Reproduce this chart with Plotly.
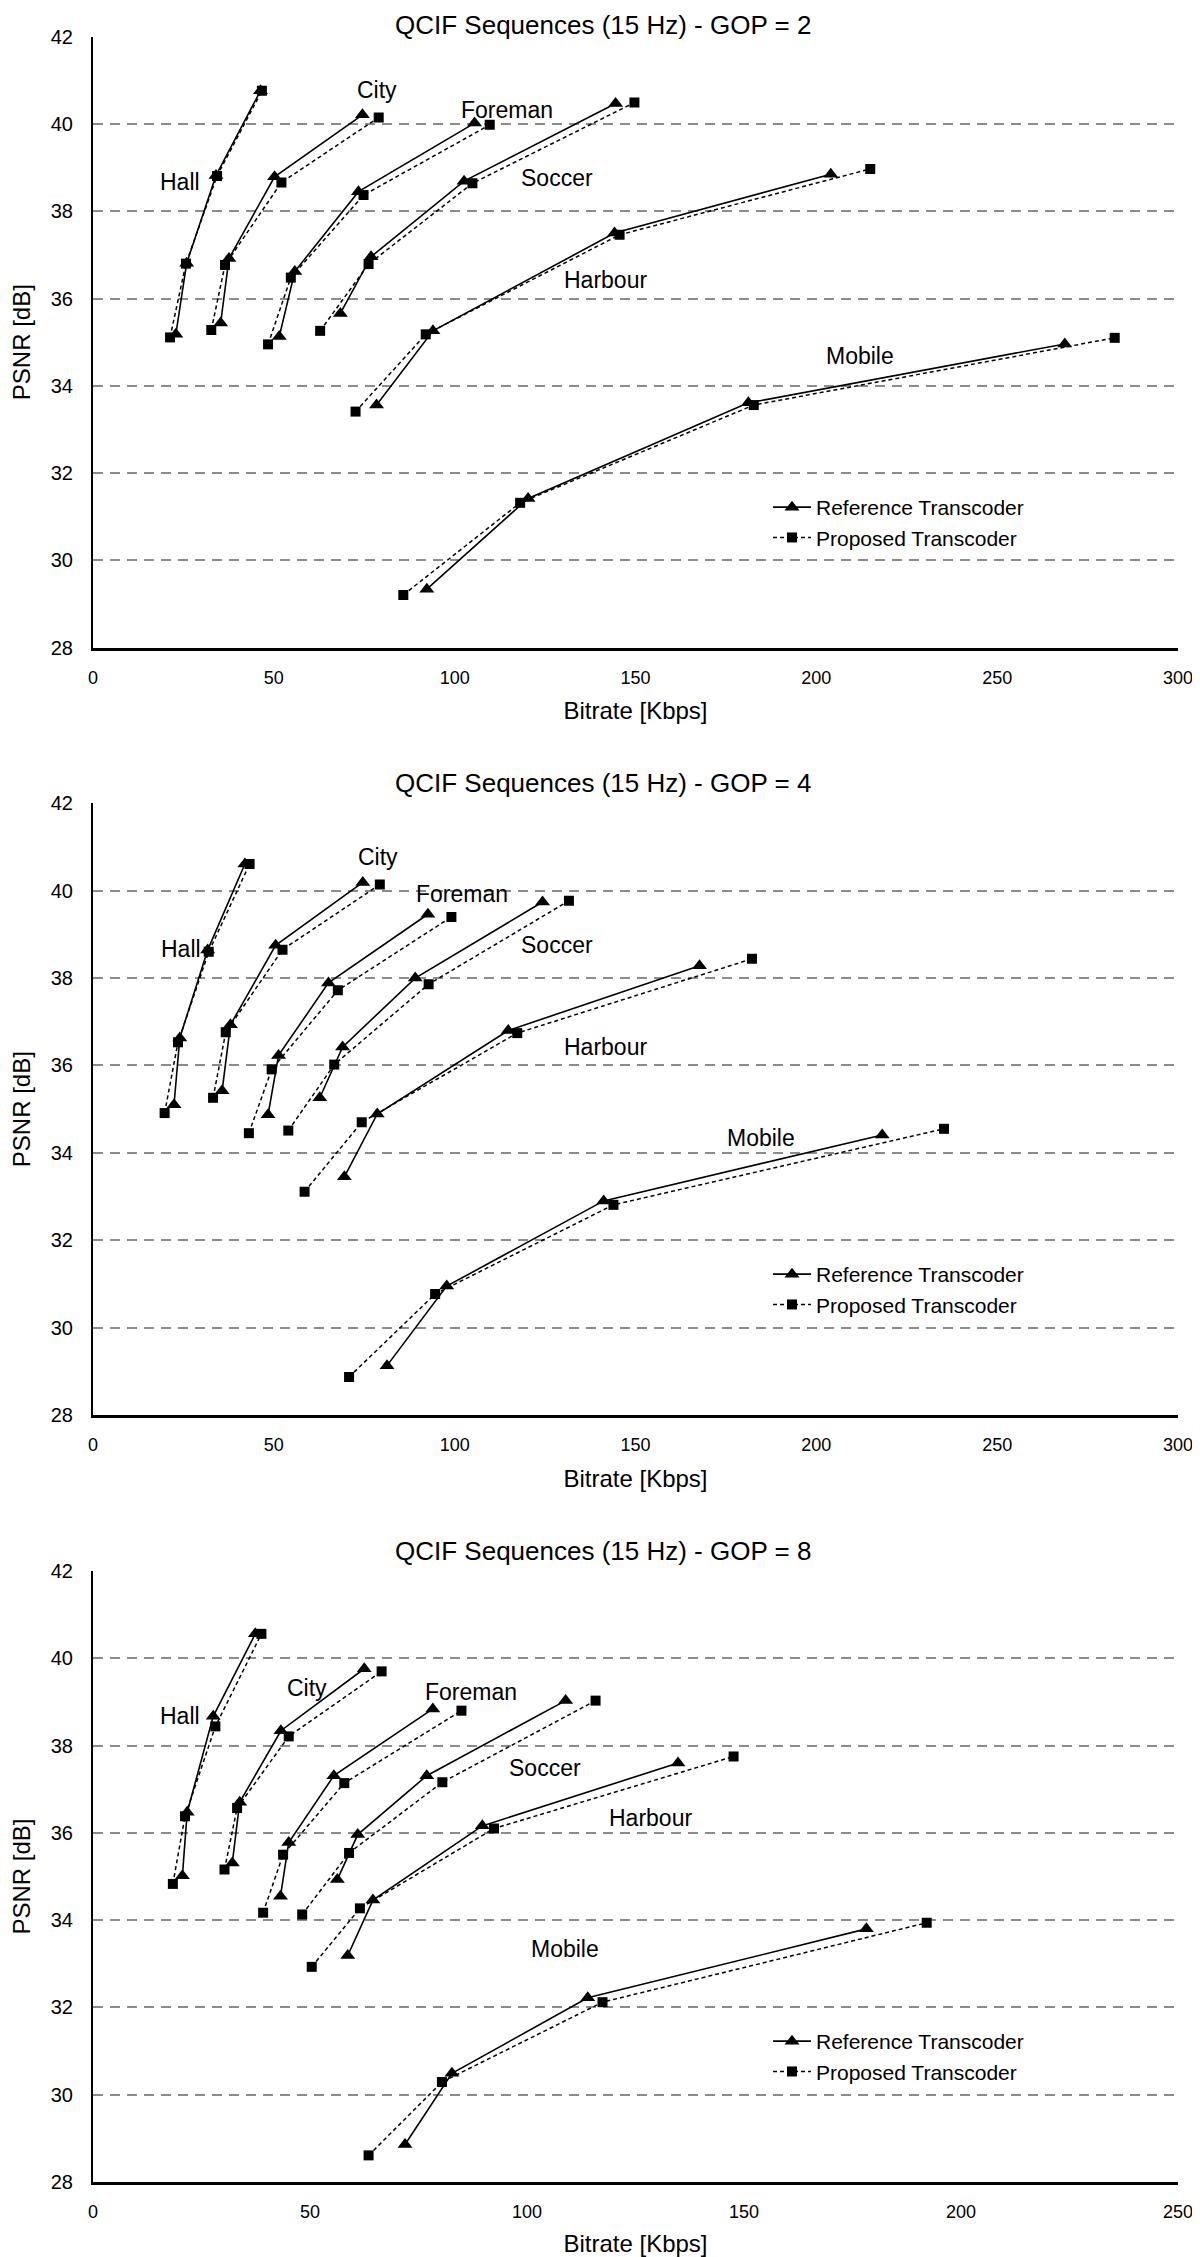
import plotly.graph_objects as go

# ---------------- data ----------------
sequences = ["Hall", "City", "Foreman", "Soccer", "Harbour", "Mobile"]
gops = [2, 4, 8]

# GOP = 2  (bitrate Kbps, PSNR dB)
g2_hall_ref_x = [22.9, 25.9, 34.0, 46.3];    g2_hall_ref_y = [35.18, 36.81, 38.82, 40.76]
g2_hall_prop_x = [21.3, 25.7, 34.3, 46.7];   g2_hall_prop_y = [35.11, 36.80, 38.81, 40.76]
g2_city_ref_x = [35.3, 37.6, 50.2, 74.5];    g2_city_ref_y = [35.44, 36.92, 38.79, 40.21]
g2_city_prop_x = [32.7, 36.5, 52.1, 79.0];   g2_city_prop_y = [35.28, 36.77, 38.66, 40.15]
g2_foreman_ref_x = [51.5, 55.8, 73.4, 105.5];  g2_foreman_ref_y = [35.13, 36.62, 38.45, 40.02]
g2_foreman_prop_x = [48.4, 54.7, 74.8, 109.7]; g2_foreman_prop_y = [34.95, 36.48, 38.37, 39.98]
g2_soccer_ref_x = [68.4, 76.9, 102.6, 144.5];  g2_soccer_ref_y = [35.66, 36.96, 38.69, 40.47]
g2_soccer_prop_x = [62.8, 76.2, 104.9, 149.7]; g2_soccer_prop_y = [35.26, 36.79, 38.64, 40.49]
g2_harbour_ref_x = [78.4, 94.0, 144.2, 204.0];  g2_harbour_ref_y = [33.56, 35.26, 37.50, 38.85]
g2_harbour_prop_x = [72.6, 92.0, 145.6, 214.9]; g2_harbour_prop_y = [33.41, 35.18, 37.46, 38.97]
g2_mobile_ref_x = [92.3, 120.3, 181.2, 268.7];  g2_mobile_ref_y = [29.34, 31.42, 33.61, 34.96]
g2_mobile_prop_x = [85.8, 118.1, 182.7, 282.5]; g2_mobile_prop_y = [29.21, 31.32, 33.56, 35.10]

# GOP = 4
g4_hall_ref_x = [22.4, 24.0, 31.7, 42.0];    g4_hall_ref_y = [35.10, 36.63, 38.64, 40.61]
g4_hall_prop_x = [19.8, 23.5, 32.0, 43.3];   g4_hall_prop_y = [34.91, 36.53, 38.60, 40.61]
g4_city_ref_x = [35.7, 38.0, 50.5, 74.6];    g4_city_ref_y = [35.42, 36.93, 38.75, 40.19]
g4_city_prop_x = [33.2, 36.7, 52.4, 79.3];   g4_city_prop_y = [35.26, 36.76, 38.65, 40.14]
g4_foreman_ref_x = [48.4, 51.3, 65.1, 92.6];  g4_foreman_ref_y = [34.87, 36.23, 37.89, 39.46]
g4_foreman_prop_x = [43.1, 49.4, 67.7, 99.1]; g4_foreman_prop_y = [34.45, 35.91, 37.72, 39.40]
g4_soccer_ref_x = [62.7, 69.0, 89.1, 124.3];  g4_soccer_ref_y = [35.26, 36.42, 38.00, 39.74]
g4_soccer_prop_x = [54.0, 66.7, 92.8, 131.6]; g4_soccer_prop_y = [34.51, 36.02, 37.86, 39.77]
g4_harbour_ref_x = [69.5, 78.6, 114.8, 167.7];  g4_harbour_ref_y = [33.45, 34.89, 36.80, 38.28]
g4_harbour_prop_x = [58.5, 74.3, 117.3, 182.2]; g4_harbour_prop_y = [33.11, 34.70, 36.74, 38.44]
g4_mobile_ref_x = [81.3, 97.8, 141.2, 218.2];  g4_mobile_ref_y = [29.13, 30.95, 32.90, 34.41]
g4_mobile_prop_x = [70.8, 94.6, 143.9, 235.3]; g4_mobile_prop_y = [28.87, 30.77, 32.81, 34.55]

# GOP = 8
g8_hall_ref_x = [20.6, 21.7, 27.7, 37.4];    g8_hall_ref_y = [35.02, 36.47, 38.67, 40.56]
g8_hall_prop_x = [18.4, 21.2, 28.2, 38.8];   g8_hall_prop_y = [34.83, 36.38, 38.44, 40.56]
g8_city_ref_x = [32.1, 33.8, 43.3, 62.5];    g8_city_ref_y = [35.31, 36.70, 38.34, 39.76]
g8_city_prop_x = [30.3, 33.2, 45.1, 66.5];   g8_city_prop_y = [35.16, 36.57, 38.21, 39.70]
g8_foreman_ref_x = [43.2, 45.1, 55.5, 78.3];  g8_foreman_ref_y = [34.55, 35.78, 37.31, 38.84]
g8_foreman_prop_x = [39.2, 43.8, 57.9, 84.9]; g8_foreman_prop_y = [34.17, 35.50, 37.14, 38.80]
g8_soccer_ref_x = [56.3, 61.0, 76.9, 108.9];  g8_soccer_ref_y = [34.93, 35.96, 37.31, 39.03]
g8_soccer_prop_x = [48.2, 59.0, 80.5, 115.8]; g8_soccer_prop_y = [34.13, 35.54, 37.16, 39.03]
g8_harbour_ref_x = [58.7, 64.5, 89.7, 134.8];  g8_harbour_ref_y = [33.19, 34.46, 36.16, 37.60]
g8_harbour_prop_x = [50.4, 61.5, 92.4, 147.6]; g8_harbour_prop_y = [32.93, 34.27, 36.10, 37.75]
g8_mobile_ref_x = [71.9, 82.7, 114.0, 178.2];  g8_mobile_ref_y = [28.86, 30.49, 32.22, 33.80]
g8_mobile_prop_x = [63.5, 80.4, 117.4, 192.1]; g8_mobile_prop_y = [28.61, 30.29, 32.12, 33.94]

x_tick_vals = [[0, 50, 100, 150, 200, 250, 300], [0, 50, 100, 150, 200, 250, 300], [0, 50, 100, 150, 200, 250]]
y_tick_vals = [28, 30, 32, 34, 36, 38, 40, 42]

# label anchor positions (data coords) for sequence names
label_pos = {
    2: [(24.0, 38.68), (78.5, 40.78), (114.5, 40.32), (128.2, 38.76), (141.8, 36.43), (212.1, 34.68)],
    4: [(24.4, 38.67), (78.7, 40.78), (102.1, 39.92), (128.2, 38.75), (141.8, 36.43), (184.8, 34.35)],
    8: [(20.1, 38.68), (49.4, 39.32), (87.1, 39.22), (104.2, 37.48), (128.5, 36.35), (108.7, 33.33)],
}

g = globals()

def joined(gop, kind, axis):
    out = []
    for s in sequences:
        out += g[f"g{gop}_{s.lower()}_{kind}_{axis}"] + [None]
    return out[:-1]

# ---------------- layout helpers ----------------
# The page body has an 8px margin, so the figure is 8px smaller and all
# reference pixel positions are shifted by -8.
OFF = 8
W, H = 1200 - OFF, 2257 - OFF
FONT = "Liberation Sans, Arial, Helvetica, sans-serif"

def px(xp):
    return (xp - OFF) / W

def py(yp):
    return 1 - (yp - OFF) / H

x_left, x_right = 93, 1178
panels_px = [(36.7, 647.7), (803.3, 1415.0), (1571.0, 2182.0)]   # y of 42 and 28
title_y_px = [None, 783, 1551]   # first title is pinned to the top edge
legend_top_px = [487, 1254, 2021]
x_ranges = [[0, 300], [0, 300], [0, 250]]

fig = go.Figure()
layout = dict(
    width=W, height=H, margin=dict(l=0, r=0, t=0, b=0, autoexpand=False),
    paper_bgcolor="white", plot_bgcolor="white",
    font=dict(family=FONT, color="black", size=19),
    annotations=[], showlegend=True,
)

for i, gop in enumerate(gops):
    sfx = "" if i == 0 else str(i + 1)
    xa, ya = "x" + sfx, "y" + sfx
    lg = "legend" + sfx
    fig.add_trace(go.Scatter(
        x=joined(gop, "ref", "x"), y=joined(gop, "ref", "y"),
        xaxis=xa, yaxis=ya, mode="lines+markers", name="Reference Transcoder",
        line=dict(color="black", width=1.6),
        marker=dict(symbol="triangle-up", size=13, color="black"),
        connectgaps=False, legend=lg))
    fig.add_trace(go.Scatter(
        x=joined(gop, "prop", "x"), y=joined(gop, "prop", "y"),
        xaxis=xa, yaxis=ya, mode="lines+markers", name="Proposed Transcoder",
        line=dict(color="black", width=1.5, dash="4px,3px"),
        marker=dict(symbol="square", size=10, color="black"),
        connectgaps=False, legend=lg))

    top, bot = panels_px[i]
    layout["xaxis" + sfx] = dict(
        domain=[px(x_left), px(x_right)], anchor=ya, range=x_ranges[i],
        tickvals=x_tick_vals[i], showgrid=False, zeroline=False,
        showline=True, linecolor="black", linewidth=2.5, automargin=False,
        ticks="", ticklabelstandoff=12, tickfont=dict(size=18),
        title=dict(text="Bitrate [Kbps]", font=dict(size=24), standoff=16),
        fixedrange=True)
    layout["yaxis" + sfx] = dict(
        domain=[py(bot), py(top)], anchor=xa, range=[28, 42],
        tickvals=y_tick_vals, showgrid=True, gridcolor="#8c8c8c", gridwidth=2,
        griddash="10px,7px", zeroline=False, automargin=False,
        showline=True, linecolor="black", linewidth=2,
        ticks="", ticklabelstandoff=14, tickfont=dict(size=20),
        title=dict(text="PSNR [dB]", font=dict(size=24), standoff=22),
        fixedrange=True)
    layout[lg] = dict(
        x=px(768), y=py(legend_top_px[i]), xanchor="left", yanchor="top",
        xref="paper", yref="paper", bgcolor="rgba(0,0,0,0)",
        font=dict(size=21), itemwidth=38, tracegroupgap=0)

    if title_y_px[i] is None:
        ty, tanchor = 1.0, "top"
    else:
        ty, tanchor = py(title_y_px[i]), "middle"
    layout["annotations"].append(dict(
        text=f"QCIF Sequences (15 Hz) - GOP = {gop}", xref="paper", yref="paper",
        x=px(603), y=ty, xanchor="center", yanchor=tanchor,
        showarrow=False, font=dict(size=26)))
    for name, (lx, ly) in zip(sequences, label_pos[gop]):
        layout["annotations"].append(dict(
            text=name, x=lx, y=ly, xref=xa, yref=ya, showarrow=False,
            xanchor="center", yanchor="middle", font=dict(size=23)))

fig.update_layout(**layout)
fig.write_html("out.html")
